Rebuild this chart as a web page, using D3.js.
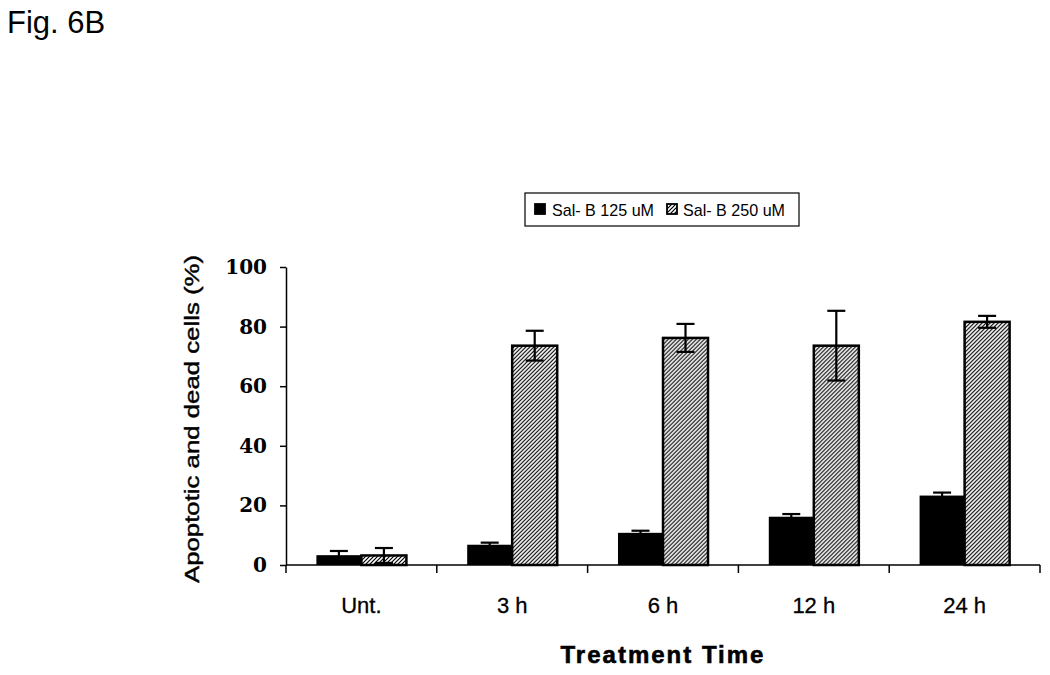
<!DOCTYPE html>
<html>
<head>
<meta charset="utf-8">
<script src="https://cdn.jsdelivr.net/npm/d3@7"></script>
<style>
  html, body { margin: 0; padding: 0; background: #fff; }
  svg { display: block; }
</style>
</head>
<body>
<svg id="chart" width="1050" height="675"></svg>
<script>
const categories = ["Unt.", "3 h", "6 h", "12 h", "24 h"];
const seriesNames = ["Sal- B 125 uM", "Sal- B 250 uM"];
const low = [3.3, 6.8, 10.8, 16.2, 23.3];
const lowErr = [1.4, 0.7, 0.7, 0.9, 1.0];
const high = [3.2, 73.6, 76.2, 73.6, 81.6];
const highErr = [2.5, 5.0, 4.7, 11.7, 2.0];
const yTicks = [0, 20, 40, 60, 80, 100];

const svg = d3.select("#chart");
const plotLeft = 286, plotRight = 1040, plotTop = 267, plotBottom = 565;

const defs = svg.append("defs");
const pat = defs.append("pattern").attr("id", "hatch")
  .attr("patternUnits", "userSpaceOnUse").attr("width", 4).attr("height", 4);
pat.append("rect").attr("width", 4).attr("height", 4).attr("fill", "#fff");
pat.append("path").attr("d", "M-1,1 l2,-2 M0,4 l4,-4 M3,5 l2,-2")
  .attr("stroke", "#000").attr("stroke-width", 1.2);

const x = d3.scaleBand().domain(categories).range([plotLeft, plotRight]).paddingInner(0).paddingOuter(0);
const xs = d3.scaleBand().domain([0, 1]).range([0, x.bandwidth()]).paddingInner(0).paddingOuter(0.675);
const y = d3.scaleLinear().domain([0, 100]).range([plotBottom, plotTop]);

// Title
svg.append("text").attr("x", 7).attr("y", 33)
  .attr("font-family", "Liberation Sans, Arial, sans-serif").attr("font-size", 31)
  .text("Fig. 6B");

// Bars
const data = categories.map((c, i) => ({c, vals: [low[i], high[i]], errs: [lowErr[i], highErr[i]]}));
const groups = svg.append("g").selectAll("g").data(data).join("g")
  .attr("transform", d => `translate(${x(d.c)},0)`);

groups.each(function(d) {
  const g = d3.select(this);
  [0, 1].forEach(s => {
    const v = d.vals[s], e = d.errs[s];
    const bx = xs(s), bw = xs.bandwidth();
    if (s === 0) {
      g.append("rect").attr("x", bx).attr("y", y(v)).attr("width", bw)
        .attr("height", y(0) - y(v)).attr("fill", "#000");
    } else {
      g.append("rect").attr("x", bx).attr("y", y(v)).attr("width", bw)
        .attr("height", y(0) - y(v)).attr("fill", "url(#hatch)")
        .attr("stroke", "#000").attr("stroke-width", 2.5);
    }
    const cx = bx + bw / 2, cw = 9;
    const eg = g.append("g").attr("stroke", "#000").attr("stroke-width", 2.2);
    eg.append("line").attr("x1", cx).attr("x2", cx).attr("y1", y(v + e)).attr("y2", y(v - e));
    eg.append("line").attr("x1", cx - cw).attr("x2", cx + cw).attr("y1", y(v + e)).attr("y2", y(v + e));
    eg.append("line").attr("x1", cx - cw).attr("x2", cx + cw).attr("y1", y(v - e)).attr("y2", y(v - e));
  });
});

// Y axis
const yAxis = svg.append("g").attr("transform", `translate(${plotLeft},0)`)
  .call(d3.axisLeft(y).tickValues(yTicks).tickSize(6).tickPadding(13).tickSizeOuter(0));
yAxis.select(".domain").attr("stroke-width", 1.5);
yAxis.selectAll(".tick line").attr("stroke-width", 1.5);
yAxis.selectAll(".tick text")
  .attr("font-family", "DejaVu Serif, serif")
  .attr("font-weight", "bold").attr("font-size", 20).attr("fill", "#000");

// X axis
const xAxisG = svg.append("g").attr("transform", `translate(0,${plotBottom})`);
xAxisG.append("line").attr("x1", plotLeft).attr("x2", plotRight).attr("y1", 0).attr("y2", 0)
  .attr("stroke", "#000").attr("stroke-width", 1.5);
const bounds = categories.map(c => x(c)).concat([x(categories[categories.length - 1]) + x.bandwidth()]);
xAxisG.selectAll("line.tk").data(bounds).join("line").attr("class", "tk")
  .attr("x1", d => d).attr("x2", d => d).attr("y1", 0).attr("y2", 8)
  .attr("stroke", "#000").attr("stroke-width", 1.5);
xAxisG.selectAll("text").data(categories).join("text")
  .attr("x", d => x(d) + x.bandwidth() / 2).attr("y", 48)
  .attr("text-anchor", "middle")
  .attr("font-family", "Liberation Sans, Arial, sans-serif").attr("font-size", 22)
  .attr("stroke", "#000").attr("stroke-width", 0.3)
  .text(d => d);

// Axis titles
svg.append("text").attr("x", (plotLeft + plotRight) / 2).attr("y", 663)
  .attr("text-anchor", "middle")
  .attr("font-family", "Liberation Sans, Arial, sans-serif").attr("font-weight", "bold")
  .attr("font-size", 24).attr("letter-spacing", 2)
  .attr("stroke", "#000").attr("stroke-width", 0.6)
  .text("Treatment Time");

svg.append("text").attr("transform", "translate(199,419) rotate(-90)")
  .attr("text-anchor", "middle")
  .attr("font-family", "Liberation Sans, Arial, sans-serif")
  .attr("font-size", 20).attr("stroke", "#000").attr("stroke-width", 0.4)
  .attr("textLength", 328).attr("lengthAdjust", "spacingAndGlyphs")
  .text("Apoptotic and dead cells (%)");

// Legend
const lg = svg.append("g");
lg.append("rect").attr("x", 525).attr("y", 193).attr("width", 274).attr("height", 33)
  .attr("fill", "#fff").attr("stroke", "#000").attr("stroke-width", 1.2);
const legendItems = [
  {name: seriesNames[0], sx: 535, tx: 552, fill: "#000"},
  {name: seriesNames[1], sx: 667, tx: 683, fill: "url(#hatch)"}
];
legendItems.forEach(it => {
  lg.append("rect").attr("x", it.sx).attr("y", 204).attr("width", 10).attr("height", 10)
    .attr("fill", it.fill).attr("stroke", "#000").attr("stroke-width", 1.8);
  lg.append("text").attr("x", it.tx).attr("y", 216)
    .attr("font-family", "Liberation Sans, Arial, sans-serif").attr("font-size", 17)
    .attr("textLength", 102).attr("lengthAdjust", "spacingAndGlyphs")
    .text(it.name);
});
</script>
</body>
</html>
